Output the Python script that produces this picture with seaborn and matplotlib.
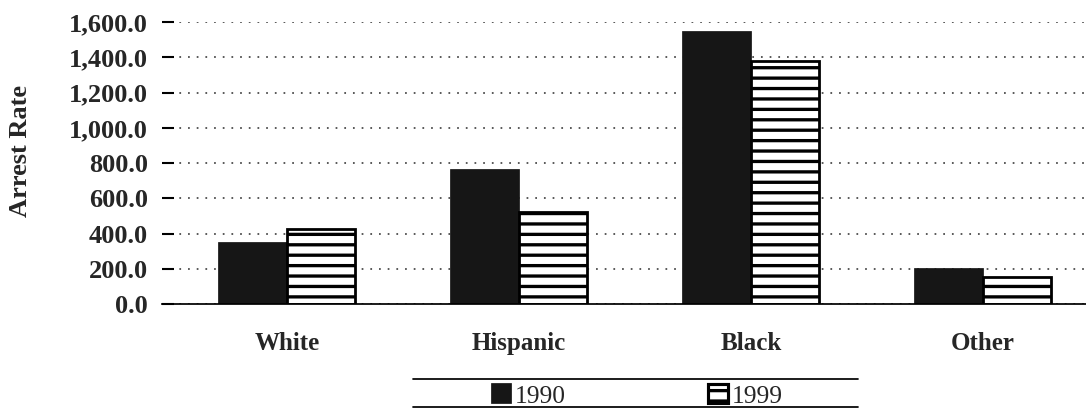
import numpy as np
import pandas as pd
import matplotlib
matplotlib.use("Agg")
import matplotlib.pyplot as plt
from matplotlib.lines import Line2D
from matplotlib.patches import Patch
from matplotlib.ticker import FuncFormatter
import seaborn as sns

# arrest rates
races = ["White", "Hispanic", "Black", "Other"]
years = ["1990", "1999"]
rate_1990 = [350, 760, 1543, 202]
rate_1999 = [426, 521, 1378, 153]
yticks = [0, 200, 400, 600, 800, 1000, 1200, 1400, 1600]

df = pd.DataFrame({
    "race": races * 2,
    "year": [years[0]] * 4 + [years[1]] * 4,
    "rate": rate_1990 + rate_1999,
})

sns.set_style("white")
plt.rcParams["font.family"] = ["Liberation Serif", "DejaVu Serif"]
plt.rcParams["hatch.linewidth"] = 1.9
plt.rcParams["hatch.color"] = "black"

DPI = 125
W, H = 1086, 409
fig = plt.figure(figsize=(W / DPI, H / DPI), dpi=DPI)
ax = fig.add_axes([162 / W, (H - 304.3) / H, 946 / W, 282.3 / H])

sns.barplot(data=df, x="race", y="rate", hue="year", order=races, hue_order=years,
            palette=["#161616", "white"], width=0.59, saturation=1,
            edgecolor="#161616", linewidth=1.0, ax=ax, legend=False)

for bar in ax.containers[1]:
    bar.set_hatch("--")
    bar.set_edgecolor("black")
    bar.set_linewidth(1.6)

ax.set_xlim(-0.539, 3.539)
ax.set_ylim(0, 1600)
ax.set_yticks(yticks)
ax.yaxis.set_major_formatter(FuncFormatter(lambda v, p: f"{v:,.1f}"))
ax.yaxis.grid(True, linestyle=(0, (1, 4)), color="#444444", linewidth=1.0)
ax.set_axisbelow(True)

for s in ["top", "right", "left"]:
    ax.spines[s].set_visible(False)
ax.spines["bottom"].set_color("black")
ax.spines["bottom"].set_linewidth(1.0)

ax.tick_params(axis="y", direction="in", length=7, width=1.2, color="black",
               pad=8, labelsize=15.2, left=True)
ax.tick_params(axis="x", length=0, pad=16, labelsize=14.4)
for lab in ax.get_yticklabels() + ax.get_xticklabels():
    lab.set_fontweight("bold")

ax.set_xlabel("")
ax.set_ylabel("Arrest Rate", fontsize=15.2, fontweight="bold")
ax.yaxis.set_label_coords(-0.137, 0.543)

# legend between two rules under the chart
handles = [Patch(facecolor="#161616", edgecolor="#161616"),
           Patch(facecolor="white", edgecolor="black", hatch="--", linewidth=1.8)]
fig.legend(handles, years, ncol=2, frameon=False, fontsize=14.7,
           loc="center", bbox_to_anchor=(637 / W, 1 - 396 / H),
           handlelength=0.75, handleheight=0.75, handletextpad=0.15,
           columnspacing=5.6, borderaxespad=0, borderpad=0)
for yy in (379, 407):
    fig.add_artist(Line2D([413 / W, 858 / W], [1 - yy / H] * 2,
                          transform=fig.transFigure, color="black", linewidth=1.0))

fig.savefig("out.png", dpi=DPI)
